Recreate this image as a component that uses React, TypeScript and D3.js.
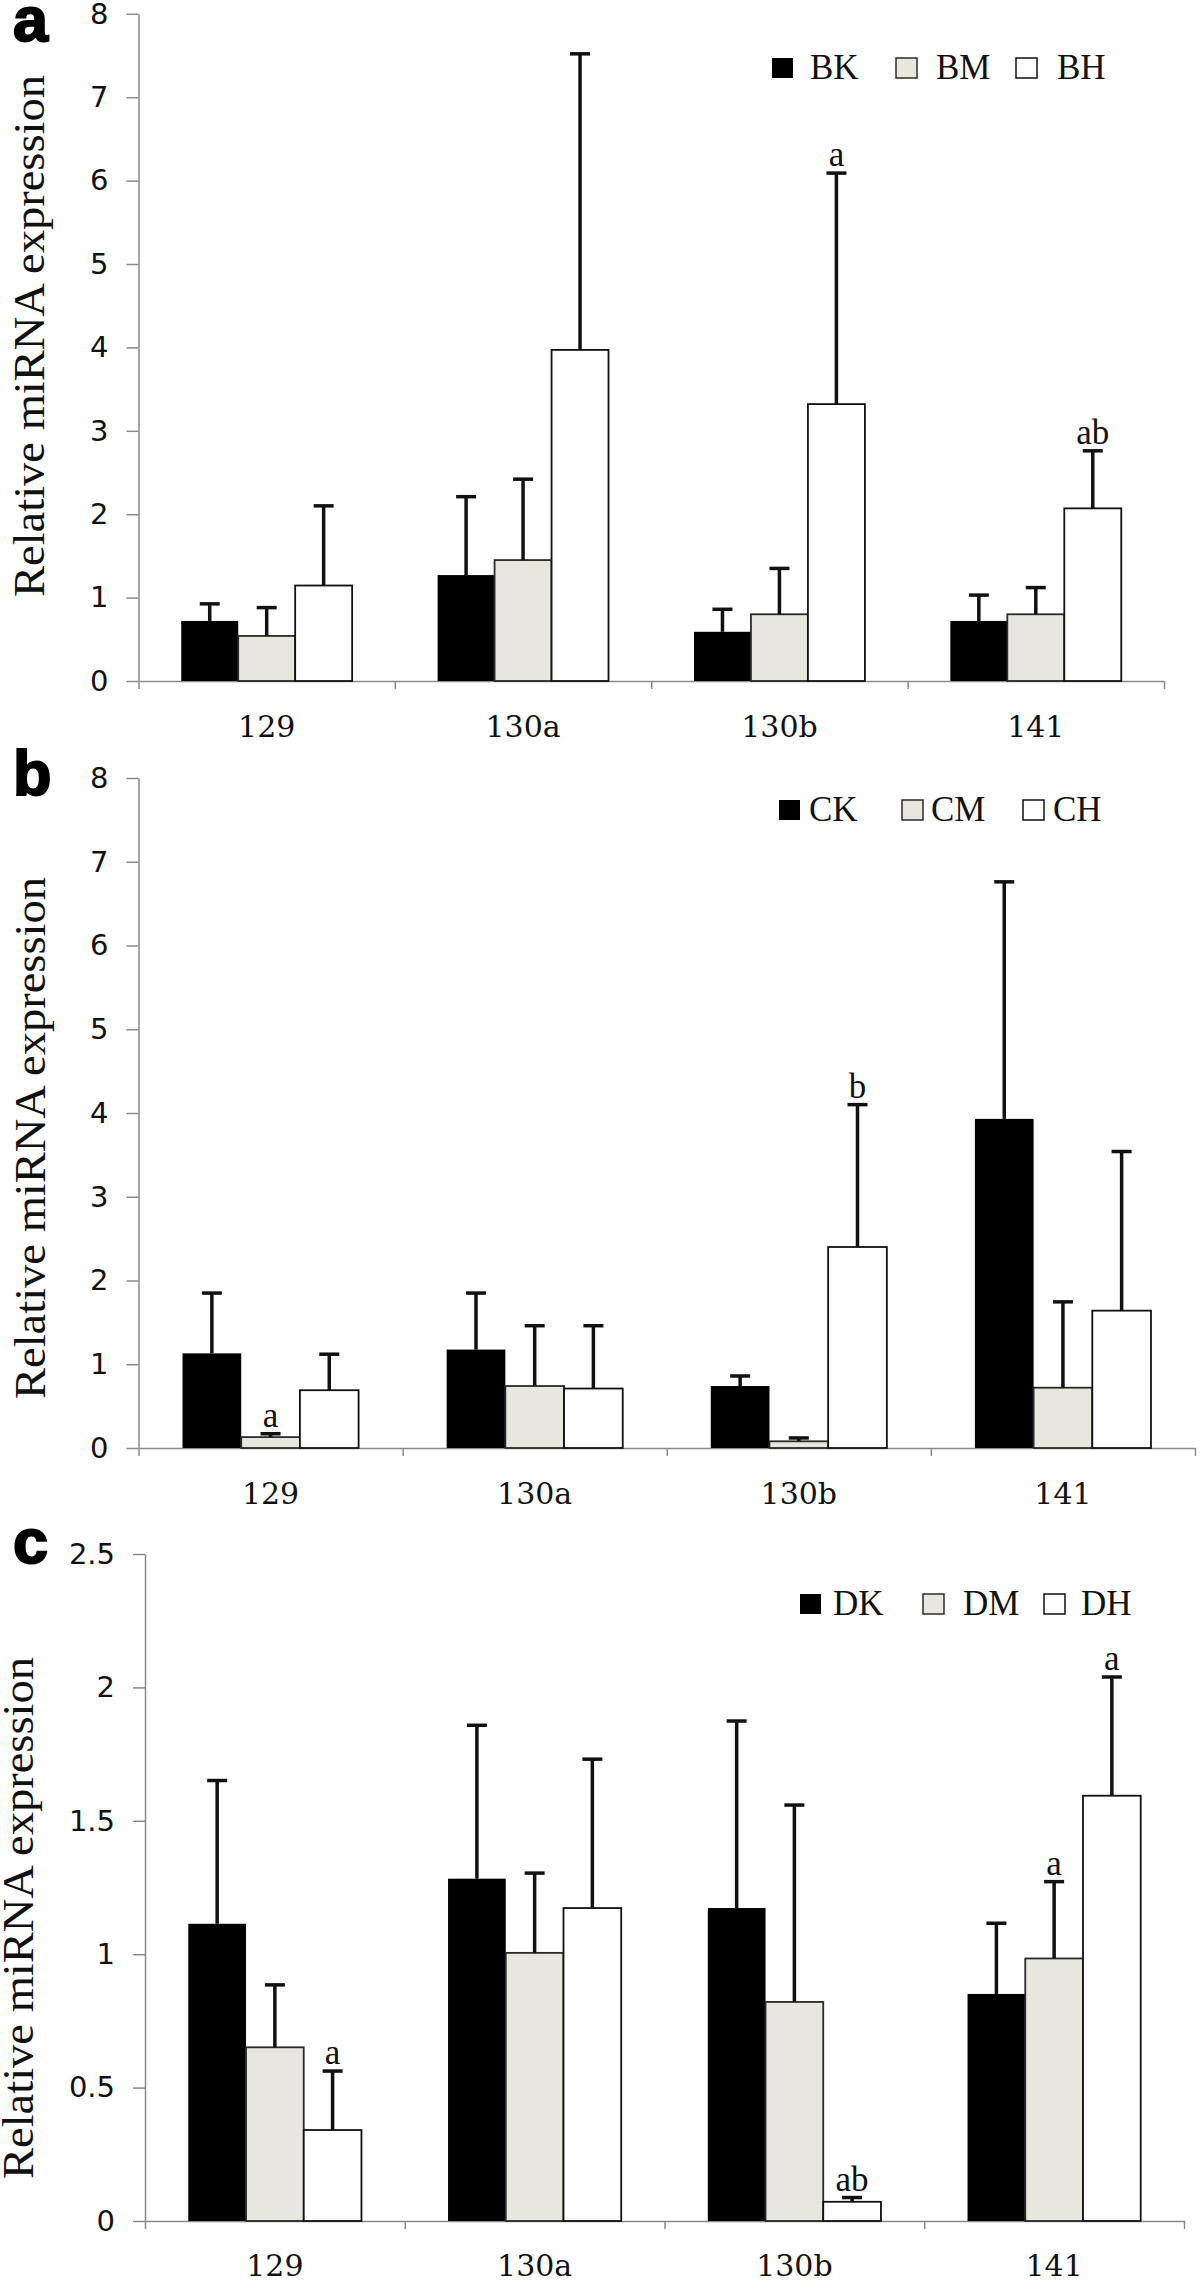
import { useEffect, useRef } from "react";
import * as d3 from "d3";

// miRNA categories shared by all three panels
const categories = ["129", "130a", "130b", "141"];

// panel a
const seriesA = ["BK", "BM", "BH"];
const meanA = [
  [0.72, 1.27, 0.59, 0.72],
  [0.54, 1.45, 0.8, 0.8],
  [1.145, 3.97, 3.32, 2.07],
];
const sdA = [
  [0.205, 0.94, 0.27, 0.31],
  [0.34, 0.97, 0.55, 0.32],
  [0.955, 3.55, 2.77, 0.69],
];
const marksA = [
  ["", "", "", ""],
  ["", "", "", ""],
  ["", "", "a", "ab"],
];

// panel b
const seriesB = ["CK", "CM", "CH"];
const meanB = [
  [1.13, 1.175, 0.74, 3.93],
  [0.13, 0.74, 0.08, 0.72],
  [0.69, 0.71, 2.4, 1.64],
];
const sdB = [
  [0.72, 0.675, 0.12, 2.83],
  [0.04, 0.72, 0.04, 1.025],
  [0.43, 0.75, 1.7, 1.9],
];
const marksB = [
  ["", "", "", ""],
  ["a", "", "", ""],
  ["", "", "b", ""],
];

// panel c
const seriesC = ["DK", "DM", "DH"];
const meanC = [
  [1.114, 1.283, 1.173, 0.851],
  [0.651, 1.005, 0.821, 0.984],
  [0.341, 1.173, 0.072, 1.594],
];
const sdC = [
  [0.537, 0.575, 0.701, 0.265],
  [0.234, 0.299, 0.738, 0.288],
  [0.221, 0.558, 0.016, 0.445],
];
const marksC = [
  ["", "", "", ""],
  ["", "", "", "a"],
  ["a", "", "ab", "a"],
];

const fills = ["#000000", "#e8e7de", "#ffffff"];
const strokes = ["#000000", "#2a2a2a", "#111111"];

const panels = [
  {
    letter: "a", series: seriesA, mean: meanA, sd: sdA, marks: marksA,
    max: 8, step: 1,
    x0: 138.5, x1: 1164, yZero: 681, yTop: 13.8,
    letterY: 41, titleX: 44, titleY: 336, labelY: 737,
    legendX: [772, 896, 1016], legendTextX: [810, 936, 1057], legendY: 68,
  },
  {
    letter: "b", series: seriesB, mean: meanB, sd: sdB, marks: marksB,
    max: 8, step: 1,
    x0: 138.5, x1: 1195, yZero: 1448, yTop: 778,
    letterY: 795, titleX: 45, titleY: 1138, labelY: 1504,
    legendX: [779, 902, 1023], legendTextX: [809, 931, 1053], legendY: 810,
  },
  {
    letter: "c", series: seriesC, mean: meanC, sd: sdC, marks: marksC,
    max: 2.5, step: 0.5,
    x0: 145, x1: 1184, yZero: 2221, yTop: 1554,
    letterY: 1563, titleX: 33, titleY: 1918, labelY: 2276,
    legendX: [800, 923, 1044], legendTextX: [833, 963, 1081], legendY: 1604,
  },
];

function Panel({ p }: { p: any }) {
  const yAxisRef = useRef<SVGGElement>(null);
  const xAxisRef = useRef<SVGGElement>(null);

  const x = d3.scaleBand().domain(categories).range([p.x0, p.x1]);
  const inner = d3
    .scaleBand()
    .domain(p.series)
    .range([x.bandwidth() / 6, (x.bandwidth() * 5) / 6]);
  const y = d3.scaleLinear().domain([0, p.max]).range([p.yZero, p.yTop]);
  const edges = d3.scaleLinear().domain([0, categories.length]).range([p.x0, p.x1]);

  useEffect(() => {
    const ticks = d3.range(0, p.max + 1e-9, p.step);
    const ya = d3
      .axisLeft(y)
      .tickValues(ticks)
      .tickSize(12)
      .tickSizeOuter(0)
      .tickPadding(18)
      .tickFormat(d3.format("~g"));
    const g = d3.select(yAxisRef.current!);
    g.selectAll("*").remove();
    g.call(ya);
    g.selectAll("path, line").attr("stroke", "#8a8a8a").attr("stroke-width", 1.5);
    g.selectAll("text")
      .attr("font-family", "DejaVu Sans")
      .attr("font-size", 29)
      .attr("fill", "#111");

    const xa = d3
      .axisBottom(edges)
      .tickValues(d3.range(0, categories.length + 1))
      .tickSize(8)
      .tickSizeOuter(0)
      .tickFormat(() => "");
    const gx = d3.select(xAxisRef.current!);
    gx.selectAll("*").remove();
    gx.call(xa);
    gx.selectAll("path, line").attr("stroke", "#8a8a8a").attr("stroke-width", 1.5);
  }, [p]);

  const bw = inner.bandwidth();

  return (
    <g>
      <text
        x={13}
        y={p.letterY}
        fontFamily="Liberation Sans"
        fontWeight={700}
        fontSize={63}
        stroke="#000"
        strokeWidth={2}
      >
        {p.letter}
      </text>
      <text
        transform={`translate(${p.titleX},${p.titleY}) rotate(-90)`}
        textAnchor="middle"
        fontFamily="Liberation Serif"
        fontSize={45}
        textLength={522}
        lengthAdjust="spacingAndGlyphs"
        fill="#111"
      >
        Relative miRNA expression
      </text>
      <g ref={yAxisRef} transform={`translate(${p.x0},0)`} />
      <g ref={xAxisRef} transform={`translate(0,${p.yZero})`} />

      {p.series.map((s: string, si: number) =>
        categories.map((c, ci) => {
          const m = p.mean[si][ci];
          const e = p.sd[si][ci];
          const bx = (x(c) as number) + (inner(s) as number);
          const cx = bx + bw / 2;
          return (
            <g key={s + c}>
              <rect
                x={bx}
                y={y(m)}
                width={bw}
                height={p.yZero - y(m)}
                fill={fills[si]}
                stroke={strokes[si]}
                strokeWidth={si === 0 ? 0 : 1.8}
              />
              <line x1={cx} x2={cx} y1={y(m)} y2={y(m + e)} stroke="#111" strokeWidth={3.5} />
              <line x1={cx - 10} x2={cx + 10} y1={y(m + e)} y2={y(m + e)} stroke="#111" strokeWidth={3.5} />
              {p.marks[si][ci] && (
                <text
                  x={cx}
                  y={y(m + e) - 7}
                  textAnchor="middle"
                  fontFamily="Liberation Serif"
                  fontSize={35}
                  fill="#111"
                >
                  {p.marks[si][ci]}
                </text>
              )}
            </g>
          );
        })
      )}

      {categories.map((c) => (
        <text
          key={c}
          x={(x(c) as number) + x.bandwidth() / 2}
          y={p.labelY}
          textAnchor="middle"
          fontFamily="DejaVu Serif"
          fontSize={30}
          fill="#111"
        >
          {c}
        </text>
      ))}

      {p.series.map((s: string, si: number) => (
        <g key={s}>
          <rect
            x={p.legendX[si]}
            y={p.legendY - 10}
            width={21}
            height={20}
            fill={fills[si]}
            stroke={strokes[si]}
            strokeWidth={si === 0 ? 0 : 1.5}
          />
          <text
            x={p.legendTextX[si]}
            y={p.legendY + 11}
            fontFamily="Liberation Serif"
            fontSize={35}
            fill="#111"
          >
            {s}
          </text>
        </g>
      ))}
    </g>
  );
}

export default function App() {
  useEffect(() => {
    document.body.style.margin = "0";
  }, []);
  return (
    <svg width={1200} height={2281} style={{ display: "block", background: "#fff" }}>
      {panels.map((p) => (
        <Panel key={p.letter} p={p} />
      ))}
    </svg>
  );
}
